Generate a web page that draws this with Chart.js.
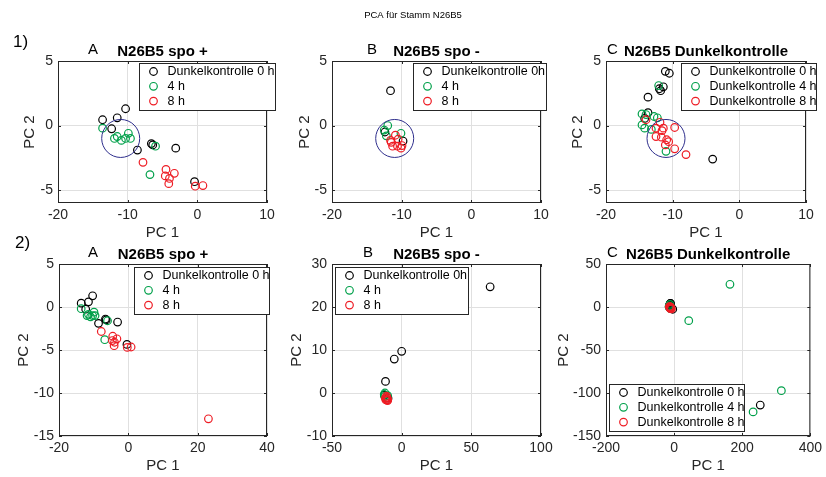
<!DOCTYPE html>
<html>
<head>
<meta charset="utf-8">
<script src="https://cdn.jsdelivr.net/npm/chart.js@4.4.0/dist/chart.umd.min.js"></script>
<style>
body { margin: 0; background: #fff; }
#wrap { position: relative; width: 826px; height: 477px; }
#wrap canvas { position: absolute; left: 0; top: 0; }
</style>
</head>
<body>
<div id="wrap">
<canvas id="c1a" width="826" height="477"></canvas>
<canvas id="c1b" width="826" height="477"></canvas>
<canvas id="c1c" width="826" height="477"></canvas>
<canvas id="c2a" width="826" height="477"></canvas>
<canvas id="c2b" width="826" height="477"></canvas>
<canvas id="c2c" width="826" height="477"></canvas>
</div>
<script>
// N26B5 spo +
var plusBlackX = [-13.6, -11.5, -10.3, -12.3, -8.6, -6.6, -6.4, -3.1, -0.4];
var plusBlackY = [0.45, 0.6, 1.3, -0.25, -1.9, -1.4, -1.5, -1.75, -4.35];
var plusGreenX = [-13.6, -11.9, -11.5, -10.9, -10.3, -9.9, -9.6, -6.0, -6.8];
var plusGreenY = [-0.2, -1.0, -0.85, -1.15, -1.0, -0.6, -1.0, -1.6, -3.8];
var plusRedX = [-7.8, -4.5, -4.6, -4.0, -3.3, -4.1, -0.3, 0.8, 23.1];
var plusRedY = [-2.85, -3.4, -3.9, -4.1, -3.7, -4.5, -4.7, -4.65, -13.0];

// N26B5 spo -
var minusBlackX = [-11.6, -12.4, -9.8, -5.3, 0.0, 63.5];
var minusBlackY = [2.7, -0.5, -1.2, 7.9, 9.7, 24.7];
var minusGreenX = [-12.0, -12.5, -12.2, -10.1];
var minusGreenY = [0.0, -0.35, -0.8, -0.6];
var minusRedX = [-11.5, -10.9, -10.5, -11.3, -10.6, -10.1, -9.95, -11.6];
var minusRedY = [-1.3, -0.75, -1.05, -1.6, -1.6, -1.75, -1.55, -1.15];

// N26B5 Dunkelkontrolle
var darkBlackX = [-11.1, -10.5, -13.7, -12.0, -11.4, -11.8, -13.7, -14.2, -4.0, 253];
var darkBlackY = [4.2, 4.05, 2.2, 2.85, 3.0, 2.7, 1.0, 0.55, -2.6, -114];
var darkGreenX = [-12.1, -14.6, -14.0, -14.6, -14.2, -12.3, -13.2, -12.8, -11.0, 43, 164, 232, 315];
var darkGreenY = [3.1, 0.9, 0.85, 0.05, -0.2, 0.6, -0.3, 0.7, -2.0, -15.9, 26.4, -122, -97.3];
var darkRedX = [-14.0, -12.5, -11.9, -11.4, -11.6, -12.5, -11.7, -10.9, -10.6, -11.1, -9.7, -9.7, -8.0];
var darkRedY = [0.45, -0.2, 0.25, -0.2, -0.4, -0.85, -0.9, -1.1, -1.25, -1.5, -0.15, -1.8, -2.25];

// cluster circle (row 1)
var circleX = [-11];
var circleY = [-1];

var labelsPlus = ["Dunkelkontrolle 0 h", "4 h", "8 h"];
var labelsMinus = ["Dunkelkontrolle 0h", "4 h", "8 h"];
var labelsDark = ["Dunkelkontrolle 0 h", "Dunkelkontrolle 4 h", "Dunkelkontrolle 8 h"];

var ticksRow1X = [-20, -10, 0, 10];
var ticksRow1Y = [-5, 0, 5];
var ticks2aX = [-20, 0, 20, 40];
var ticks2aY = [-15, -10, -5, 0, 5];
var ticks2bX = [-50, 0, 50, 100];
var ticks2bY = [-10, 0, 10, 20, 30];
var ticks2cX = [-200, 0, 200, 400];
var ticks2cY = [-150, -100, -50, 0, 50];

var FONT = "'Liberation Sans', Arial, Helvetica, sans-serif";
var AXC = "#262626";
var GREEN = "#00a04a";
var RED = "#ee1c24";
var NAVY = "#2e2e8c";
var MR = 3.8;

function pts(xs, ys) {
    return xs.map(function (x, i) { return { x: x, y: ys[i] }; });
}

var deco = {
    id: "deco",
    afterDraw: function (chart, args, o) {
        var ctx = chart.ctx, a = chart.chartArea;
        var sx = chart.scales.x, sy = chart.scales.y;
        ctx.save();
        // box + inward ticks
        ctx.strokeStyle = AXC;
        ctx.lineWidth = 1;
        ctx.strokeRect(a.left + 0.5, a.top + 0.5, a.right - a.left - 1, a.bottom - a.top - 1);
        ctx.beginPath();
        sx.ticks.forEach(function (t) {
            var p = Math.round(sx.getPixelForValue(t.value)) + 0.5;
            ctx.moveTo(p, a.bottom); ctx.lineTo(p, a.bottom - 3);
            ctx.moveTo(p, a.top); ctx.lineTo(p, a.top + 3);
        });
        sy.ticks.forEach(function (t) {
            var p = Math.round(sy.getPixelForValue(t.value)) + 0.5;
            ctx.moveTo(a.left, p); ctx.lineTo(a.left + 3, p);
            ctx.moveTo(a.right, p); ctx.lineTo(a.right - 3, p);
        });
        ctx.stroke();

        // titles
        ctx.fillStyle = "#000";
        ctx.textBaseline = "alphabetic";
        ctx.font = "15px " + FONT;
        ctx.textAlign = "left";
        ctx.fillText(o.letter, a.left + o.letterDx, a.top - 7);
        ctx.font = "bold 15px " + FONT;
        ctx.textAlign = "center";
        ctx.fillText(o.title, (a.left + a.right) / 2, a.top - 5);

        // axis labels
        ctx.fillStyle = AXC;
        ctx.font = "15px " + FONT;
        ctx.fillText("PC 1", (a.left + a.right) / 2, a.bottom + 34);
        ctx.save();
        ctx.translate(o.yLabelX, (a.top + a.bottom) / 2);
        ctx.rotate(-Math.PI / 2);
        ctx.textBaseline = "middle";
        ctx.fillText("PC 2", 0, 0);
        ctx.restore();

        // legend
        var L = o.legend;
        ctx.fillStyle = "#fff";
        ctx.fillRect(L.x, L.y, L.w, L.h);
        ctx.strokeStyle = AXC;
        ctx.strokeRect(L.x + 0.5, L.y + 0.5, L.w - 1, L.h - 1);
        ctx.font = "12.5px " + FONT;
        ctx.textAlign = "left";
        ctx.textBaseline = "middle";
        for (var i = 0; i < 3; i++) {
            var ds = chart.data.datasets[i];
            var cy = L.y + 8.5 + i * 14.8;
            ctx.beginPath();
            ctx.strokeStyle = ds.borderColor;
            ctx.lineWidth = 1.2;
            ctx.arc(L.x + 14.5, cy, MR, 0, Math.PI * 2);
            ctx.stroke();
            ctx.fillStyle = "#000";
            ctx.fillText(ds.label, L.x + 28.5, cy + 0.5);
        }

        // page texts
        if (o.page) {
            ctx.fillStyle = "#000";
            ctx.textBaseline = "alphabetic";
            ctx.textAlign = "center";
            ctx.font = "9.5px " + FONT;
            ctx.fillText("PCA für Stamm N26B5", 413, 18);
            ctx.textAlign = "left";
            ctx.font = "17px " + FONT;
            ctx.fillText("1)", 13, 47);
            ctx.fillText("2)", 15, 248);
        }
        ctx.restore();
    }
};

function panel(id, p) {
    var datasets = [
        { label: p.labels[0], data: pts(p.black[0], p.black[1]), borderColor: "#000", order: 3 },
        { label: p.labels[1], data: pts(p.green[0], p.green[1]), borderColor: GREEN, order: 2 },
        { label: p.labels[2], data: pts(p.red[0], p.red[1]), borderColor: RED, order: 1 }
    ];
    if (p.circle) {
        datasets.push({ label: "", data: pts(circleX, circleY), borderColor: NAVY,
            pointRadius: 19, hoverRadius: 19, borderWidth: 1, order: 0 });
    }
    var a = p.area;
    function axis(min, max, ticks, isX) {
        return {
            type: "linear", min: min, max: max,
            afterBuildTicks: function (s) { s.ticks = ticks.map(function (v) { return { value: v }; }); },
            afterFit: function (s) { if (isX) { s.height = 40; } else { s.width = 50; } },
            grid: { color: "#e0e0e0", drawTicks: false },
            border: { display: false },
            ticks: { color: AXC, font: { family: FONT, size: 14 }, padding: isX ? 4 : 5,
                autoSkip: false, maxRotation: 0 }
        };
    }
    return new Chart(document.getElementById(id), {
        type: "scatter",
        data: { datasets: datasets },
        options: {
            responsive: false,
            animation: false,
            events: [],
            layout: { padding: { left: a.l - 50, top: a.t, right: 826 - a.r, bottom: 477 - a.b - 40 } },
            elements: { point: { radius: MR, hoverRadius: MR, borderWidth: 1.2, backgroundColor: "rgba(0,0,0,0)" } },
            plugins: {
                legend: { display: false },
                tooltip: { enabled: false },
                deco: { letter: p.letter, letterDx: p.letterDx, title: p.title, yLabelX: p.yLabelX,
                    legend: p.legend, page: !!p.page }
            },
            scales: {
                x: axis(p.x[0], p.x[1], p.xTicks, true),
                y: axis(p.y[0], p.y[1], p.yTicks, false)
            }
        },
        plugins: [deco]
    });
}

var plusSeries = { black: [plusBlackX, plusBlackY], green: [plusGreenX, plusGreenY], red: [plusRedX, plusRedY] };
var minusSeries = { black: [minusBlackX, minusBlackY], green: [minusGreenX, minusGreenY], red: [minusRedX, minusRedY] };
var darkSeries = { black: [darkBlackX, darkBlackY], green: [darkGreenX, darkGreenY], red: [darkRedX, darkRedY] };

function merge(s, extra) {
    var o = {};
    for (var k in s) o[k] = s[k];
    for (var k2 in extra) o[k2] = extra[k2];
    return o;
}

panel("c1a", merge(plusSeries, { labels: labelsPlus, circle: true, page: true,
    area: { l: 58, t: 61, r: 267, b: 203 }, x: [-20, 10], y: [-6, 5], xTicks: ticksRow1X, yTicks: ticksRow1Y,
    letter: "A", letterDx: 30, title: "N26B5 spo +", yLabelX: 30,
    legend: { x: 139, y: 63, w: 137, h: 48 } }));
panel("c1b", merge(minusSeries, { labels: labelsMinus, circle: true,
    area: { l: 332, t: 61, r: 541, b: 203 }, x: [-20, 10], y: [-6, 5], xTicks: ticksRow1X, yTicks: ticksRow1Y,
    letter: "B", letterDx: 35, title: "N26B5 spo -", yLabelX: 305,
    legend: { x: 413, y: 63, w: 134, h: 48 } }));
panel("c1c", merge(darkSeries, { labels: labelsDark, circle: true,
    area: { l: 606, t: 61, r: 815, b: 203 }, x: [-20, 10], y: [-6, 5], xTicks: ticksRow1X, yTicks: ticksRow1Y,
    letter: "C", letterDx: 1, title: "N26B5 Dunkelkontrolle", yLabelX: 578,
    legend: { x: 681, y: 63, w: 136, h: 48 } }));
panel("c2a", merge(plusSeries, { labels: labelsPlus,
    area: { l: 59, t: 264, r: 267, b: 436 }, x: [-20, 40], y: [-15, 5], xTicks: ticks2aX, yTicks: ticks2aY,
    letter: "A", letterDx: 29, title: "N26B5 spo +", yLabelX: 24,
    legend: { x: 134, y: 267, w: 136, h: 48 } }));
panel("c2b", merge(minusSeries, { labels: labelsMinus,
    area: { l: 332, t: 264, r: 541, b: 436 }, x: [-50, 100], y: [-10, 30], xTicks: ticks2bX, yTicks: ticks2bY,
    letter: "B", letterDx: 31, title: "N26B5 spo -", yLabelX: 297,
    legend: { x: 335, y: 267, w: 134, h: 48 } }));
panel("c2c", merge(darkSeries, { labels: labelsDark,
    area: { l: 606, t: 264, r: 814, b: 436 }, x: [-200, 400], y: [-150, 50], xTicks: ticks2cX, yTicks: ticks2cY,
    letter: "C", letterDx: 1, title: "N26B5 Dunkelkontrolle", yLabelX: 564,
    legend: { x: 609, y: 384, w: 136, h: 48 } }));
</script>
</body>
</html>
